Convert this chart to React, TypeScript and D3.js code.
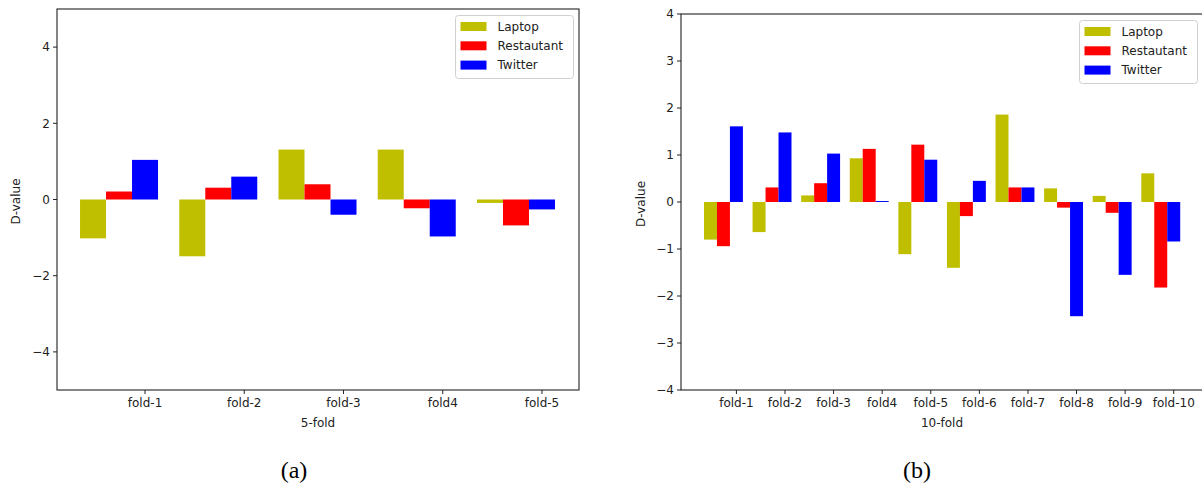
import React from 'react';
import * as d3 from 'd3';

// 5-fold panel (a)
const folds5 = ['fold-1', 'fold-2', 'fold-3', 'fold4', 'fold-5'];
const laptop5 = [-1.02, -1.49, 1.31, 1.31, -0.09];
const restaurant5 = [0.21, 0.31, 0.4, -0.23, -0.68];
const twitter5 = [1.04, 0.6, -0.4, -0.97, -0.26];
const yTicks5 = [-4, -2, 0, 2, 4];

// 10-fold panel (b)
const folds10 = ['fold-1', 'fold-2', 'fold-3', 'fold4', 'fold-5', 'fold-6', 'fold-7', 'fold-8', 'fold-9', 'fold-10'];
const laptop10 = [-0.8, -0.64, 0.14, 0.93, -1.11, -1.4, 1.86, 0.29, 0.13, 0.61];
const restaurant10 = [-0.94, 0.31, 0.4, 1.13, 1.22, -0.3, 0.31, -0.12, -0.23, -1.82];
const twitter10 = [1.61, 1.48, 1.03, 0.02, 0.9, 0.45, 0.31, -2.43, -1.55, -0.84];
const yTicks10 = [-4, -3, -2, -1, 0, 1, 2, 3, 4];

const seriesNames = ['Laptop', 'Restautant', 'Twitter'];
const colors = ['#bfbf00', '#ff0000', '#0000ff'];

const FONT = '"DejaVu Sans", sans-serif';
const fmt = (v: number) => (v < 0 ? '\u2212' + Math.abs(v) : String(v));

type PanelProps = {
  folds: string[];
  series: number[][];
  yDomain: [number, number];
  yTicks: number[];
  xDomain: [number, number];
  barWidth: number;
  left: number;
  right: number;
  top: number;
  bottom: number;
  xLabel: string;
  yLabelX: number;
  legendX: number;
  legendY: number;
  caption: string;
  captionX: number;
};

const Panel = (p: PanelProps) => {
  const x = d3.scaleLinear().domain(p.xDomain).range([p.left, p.right]);
  const y = d3.scaleLinear().domain(p.yDomain).range([p.bottom, p.top]);
  const w = x(p.barWidth) - x(0);

  return (
    <g>
      {/* bars: Laptop at i, Restautant at i + w, Twitter at i + 2w */}
      {p.series.map((vals, s) =>
        vals.map((v, i) => {
          const x0 = x(i + s * p.barWidth);
          const y0 = y(Math.max(0, v));
          const y1 = y(Math.min(0, v));
          return (
            <rect key={`${s}-${i}`} x={x0} y={y0} width={w} height={Math.max(0.5, y1 - y0)} fill={colors[s]} />
          );
        })
      )}

      {/* frame */}
      <rect x={p.left} y={p.top} width={p.right - p.left} height={p.bottom - p.top} fill="none" stroke="#222" strokeWidth={1.1} />

      {/* y axis */}
      {p.yTicks.map(t => (
        <g key={t}>
          <line x1={p.left - 4} x2={p.left} y1={y(t)} y2={y(t)} stroke="#222" />
          <text x={p.left - 7} y={y(t)} dy="0.35em" textAnchor="end" fontSize={12} fontFamily={FONT} fill="#222">
            {fmt(t)}
          </text>
        </g>
      ))}
      <text
        transform={`translate(${p.yLabelX},${(p.top + p.bottom) / 2 + 2}) rotate(-90)`}
        textAnchor="middle"
        fontSize={12}
        fontFamily={FONT}
        fill="#222"
      >
        D-value
      </text>

      {/* x axis: ticks under the Twitter bar of each fold */}
      {p.folds.map((f, k) => {
        const tx = x(k + 2.5 * p.barWidth);
        return (
          <g key={f}>
            <line x1={tx} x2={tx} y1={p.bottom} y2={p.bottom + 4} stroke="#222" />
            <text x={tx} y={p.bottom + 13} dy="0.35em" textAnchor="middle" fontSize={12} fontFamily={FONT} fill="#222">
              {f}
            </text>
          </g>
        );
      })}
      <text x={(p.left + p.right) / 2} y={p.bottom + 33} dy="0.35em" textAnchor="middle" fontSize={12} fontFamily={FONT} fill="#222">
        {p.xLabel}
      </text>

      {/* legend */}
      <g transform={`translate(${p.legendX},${p.legendY})`}>
        <rect x={0} y={0} width={118} height={63} rx={3} fill="#fff" fillOpacity={0.8} stroke="#d0d0d0" />
        {seriesNames.map((n, s) => (
          <g key={n} transform={`translate(0,${11 + s * 19.3})`}>
            <rect x={5} y={-4.5} width={26} height={9} fill={colors[s]} />
            <text x={42} y={0} dy="0.35em" fontSize={12} fontFamily={FONT} fill="#222">
              {n}
            </text>
          </g>
        ))}
      </g>

      {/* caption */}
      <text x={p.captionX} y={p.bottom + 80} dy="0.35em" textAnchor="middle" fontSize={24} fontFamily='"Liberation Serif", "Times New Roman", serif' fill="#000">
        {p.caption}
      </text>
    </g>
  );
};

export default function App() {
  return (
    <svg width={1202} height={484} style={{ position: 'absolute', left: 0, top: 0, background: '#fff' }}>
      <Panel
        folds={folds5}
        series={[laptop5, restaurant5, twitter5]}
        yDomain={[-5, 5]}
        yTicks={yTicks5}
        xDomain={[-0.232, 5.028]}
        barWidth={0.262}
        left={57}
        right={579}
        top={9}
        bottom={390}
        xLabel="5-fold"
        yLabelX={19.5}
        legendX={455.5}
        legendY={15.5}
        caption="(a)"
        captionX={294}
      />
      <Panel
        folds={folds10}
        series={[laptop10, restaurant10, twitter10]}
        yDomain={[-4, 4]}
        yTicks={yTicks10}
        xDomain={[-0.473, 10.27]}
        barWidth={0.267}
        left={681}
        right={1203}
        top={14}
        bottom={390}
        xLabel="10-fold"
        yLabelX={644.5}
        legendX={1079.5}
        legendY={20.5}
        caption="(b)"
        captionX={917}
      />
    </svg>
  );
}
